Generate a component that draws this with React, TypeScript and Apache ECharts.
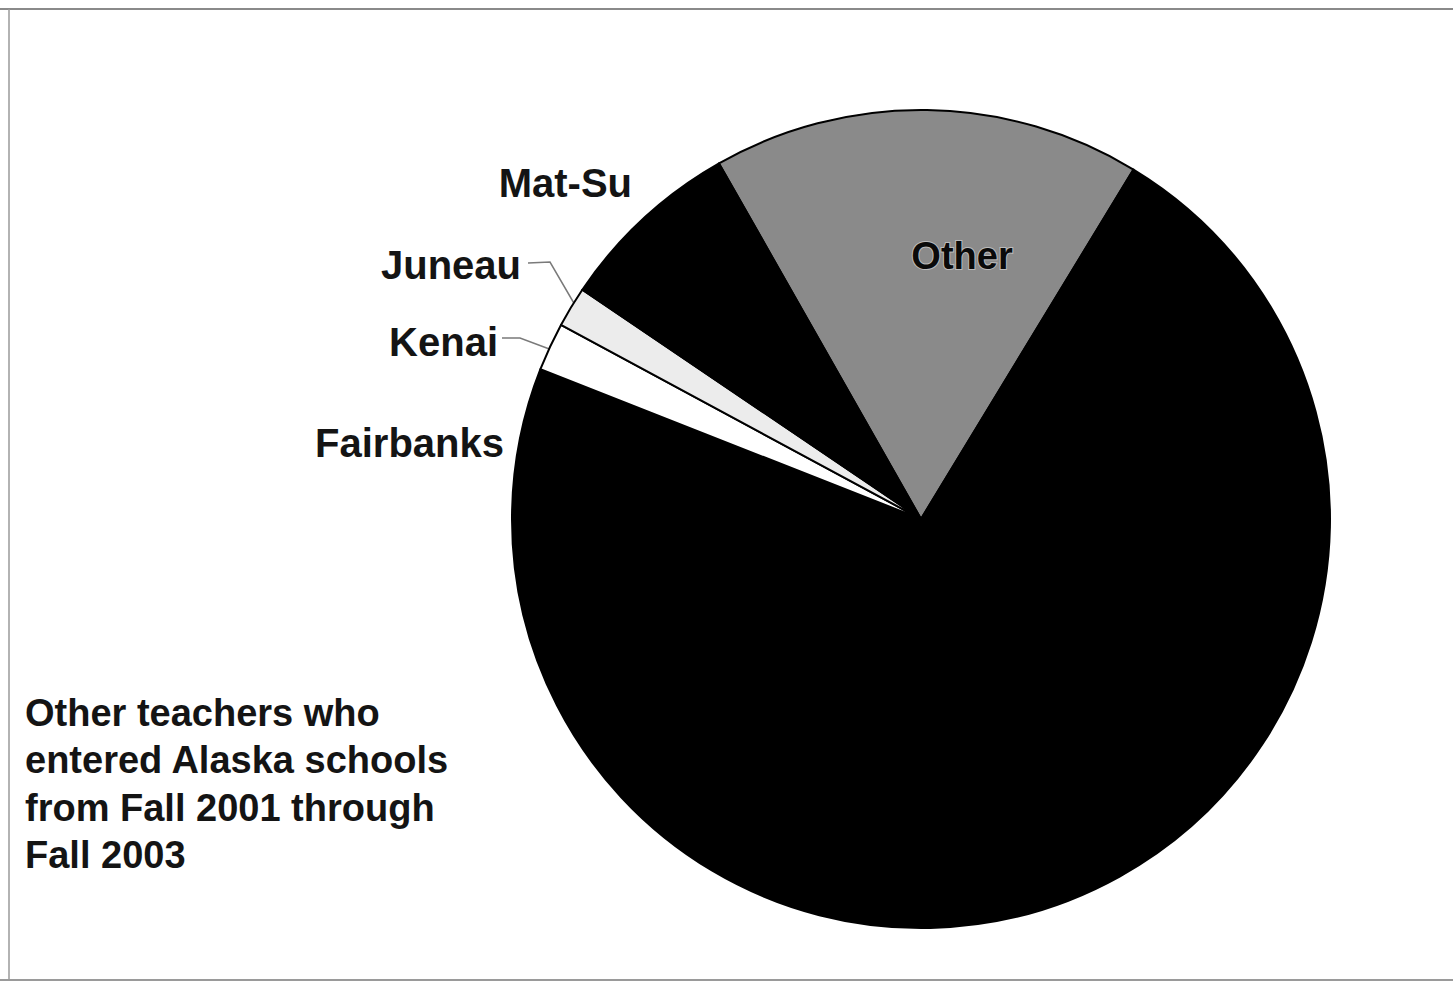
import React, { useEffect, useRef } from "react";
import * as echarts from "echarts";

// Slices clockwise from the left edge of "Other"
const categories = ["Other", "Anchorage", "Fairbanks", "Kenai", "Juneau", "Mat-Su"];
const shares = [16.9, 66.4, 5.8, 1.9, 1.6, 7.3];
const noteLines = [
  "Other teachers who",
  "entered Alaska schools",
  "from Fall 2001 through",
  "Fall 2003",
];

const sliceColors: Record<string, string> = {
  Other: "#8a8a8a",
  Anchorage: "#000000",
  Fairbanks: "#000000",
  Kenai: "#ffffff",
  Juneau: "#ececec",
  "Mat-Su": "#000000",
};

export default function App() {
  const ref = useRef<HTMLDivElement>(null);

  useEffect(() => {
    document.body.style.margin = "0";
    const chart = echarts.init(ref.current!, null, { renderer: "svg" });

    const placement: Record<string, any> = {
      Other: { x: 962, y: 256, align: "center" },
      "Mat-Su": { x: 632, y: 183, align: "right" },
      Juneau: { x: 521, y: 265, align: "right", line: [[528, 263], [550, 262], [575, 305]] },
      Kenai: { x: 498, y: 342, align: "right", line: [[502, 338], [520, 338], [552, 350]] },
      Fairbanks: { x: 504, y: 443, align: "right" },
    };

    const data = categories.map((name, i) => {
      const item: any = {
        name,
        value: shares[i],
        itemStyle: { color: sliceColors[name] },
        labelLine: { show: !!(placement[name] && placement[name].line) },
      };
      if (name === "Anchorage") item.label = { show: false };
      if (name === "Other")
        item.label = {
          fontSize: 38,
          fontWeight: 900,
          color: "#0a0a0a",
          textBorderColor: "rgba(210,210,210,0.7)",
          textBorderWidth: 2,
        };
      return item;
    });

    chart.setOption({
      animation: false,
      backgroundColor: "#ffffff",
      title: {
        text: noteLines.join("\n"),
        left: 25,
        top: 689,
        padding: 0,
        textStyle: {
          fontFamily: "Liberation Sans",
          fontSize: 38,
          fontWeight: "bold",
          lineHeight: 47.5,
          color: "#141414",
        },
      },
      graphic: [
        { type: "line", shape: { x1: 0, y1: 9, x2: 1453, y2: 9 }, style: { stroke: "#8a8a8a", lineWidth: 2 } },
        { type: "line", shape: { x1: 9, y1: 9, x2: 9, y2: 980 }, style: { stroke: "#9a9a9a", lineWidth: 1.5 } },
        { type: "line", shape: { x1: 0, y1: 980, x2: 1453, y2: 980 }, style: { stroke: "#9a9a9a", lineWidth: 2 } },
      ],
      series: [
        {
          type: "pie",
          center: [921, 519],
          radius: 409,
          startAngle: 119.6,
          clockwise: true,
          avoidLabelOverlap: false,
          silent: true,
          itemStyle: { borderColor: "#000000", borderWidth: 2 },
          label: {
            show: true,
            position: "outside",
            formatter: "{b}",
            fontFamily: "Liberation Sans",
            fontSize: 40,
            fontWeight: "bold",
            color: "#141414",
          },
          labelLine: {
            show: false,
            lineStyle: { color: "#7a7a7a", width: 1.5 },
          },
          labelLayout: (params: any) => {
            const name = categories[params.dataIndex];
            const p = placement[name];
            if (!p) return {};
            const out: any = { x: p.x, y: p.y, align: p.align, verticalAlign: "middle" };
            if (p.line) out.labelLinePoints = p.line;
            return out;
          },
          data,
        },
      ],
    });

    return () => chart.dispose();
  }, []);

  return <div ref={ref} style={{ width: 1453, height: 987 }} />;
}
